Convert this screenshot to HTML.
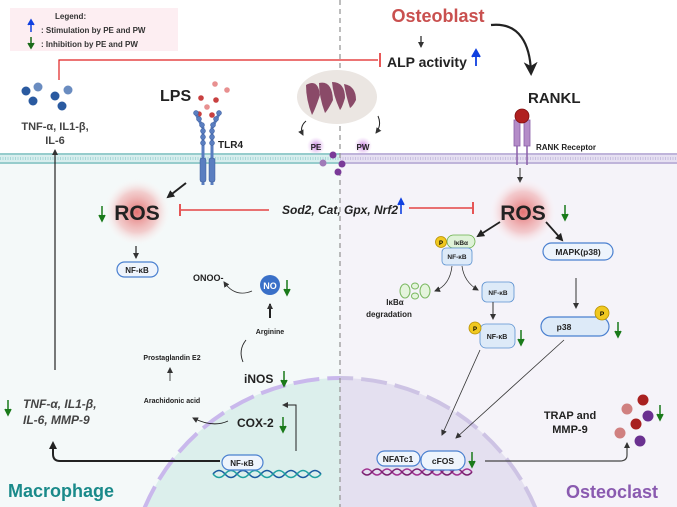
<!DOCTYPE html>
<html><head><meta charset="utf-8"><style>
html,body{margin:0;padding:0;width:677px;height:507px;overflow:hidden;background:#fff;font-family:"Liberation Sans",sans-serif}
svg{display:block;overflow:hidden}
svg text{font-family:"Liberation Sans",sans-serif}
</style></head><body>
<svg width="677" height="507" viewBox="0 0 677 507" xmlns="http://www.w3.org/2000/svg" overflow="hidden">
<defs>
<radialGradient id="ros"><stop offset="0" stop-color="#e05a5a" stop-opacity="0.85"/><stop offset="0.6" stop-color="#f0a0a0" stop-opacity="0.5"/><stop offset="1" stop-color="#fff" stop-opacity="0"/></radialGradient>
<radialGradient id="glow"><stop offset="0" stop-color="#b050d0" stop-opacity="0.8"/><stop offset="1" stop-color="#e0b0f0" stop-opacity="0"/></radialGradient>
<marker id="ah" markerWidth="8" markerHeight="8" refX="6" refY="4" orient="auto" markerUnits="userSpaceOnUse"><path d="M0,0 L8,4 L0,8 Z" fill="#222"/></marker>
<marker id="ahs" markerWidth="6" markerHeight="6" refX="5" refY="3" orient="auto" markerUnits="userSpaceOnUse"><path d="M0,0 L6,3 L0,6 Z" fill="#333"/></marker>
<marker id="ahb" markerWidth="14" markerHeight="14" refX="10" refY="7" orient="auto" markerUnits="userSpaceOnUse"><path d="M0,0 L14,7 L0,14 L4,7 Z" fill="#222"/></marker>
<clipPath id="cl"><rect x="0" y="0" width="340" height="507"/></clipPath>
<clipPath id="cr"><rect x="340" y="0" width="337" height="507"/></clipPath>
</defs>
<rect x="0" y="160" width="340" height="347" fill="#f4f9f9"/>
<rect x="340" y="160" width="337" height="347" fill="#f5f3f9"/>
<circle cx="340" cy="590" r="212" fill="#dcefec" clip-path="url(#cl)"/>
<circle cx="340" cy="590" r="212" fill="#e4e0f0" clip-path="url(#cr)"/>
<circle cx="340" cy="590" r="212" fill="none" stroke="#c9b8ec" stroke-width="4" stroke-dasharray="26 8" clip-path="url(#cl)"/>
<circle cx="340" cy="590" r="212" fill="none" stroke="#cdc3e4" stroke-width="4" stroke-dasharray="26 8" clip-path="url(#cr)"/>
<rect x="0" y="153" width="340" height="11" fill="#d8eeee"/>
<line x1="0" y1="154" x2="340" y2="154" stroke="#6fb8b8" stroke-width="1.2"/>
<line x1="0" y1="163" x2="340" y2="163" stroke="#6fb8b8" stroke-width="1.2"/>
<line x1="0" y1="158.5" x2="340" y2="158.5" stroke="#a8d8d8" stroke-width="3" stroke-dasharray="1 1.5"/>
<rect x="340" y="153" width="337" height="11" fill="#e6e0f2"/>
<line x1="340" y1="154" x2="677" y2="154" stroke="#a899cc" stroke-width="1.2"/>
<line x1="340" y1="163" x2="677" y2="163" stroke="#a899cc" stroke-width="1.2"/>
<line x1="340" y1="158.5" x2="677" y2="158.5" stroke="#c8bfe0" stroke-width="3" stroke-dasharray="1 1.5"/>
<line x1="340" y1="0" x2="340" y2="507" stroke="#999" stroke-width="1.3" stroke-dasharray="5 4"/>
<rect x="10" y="8" width="168" height="43" fill="#fdeef2"/>
<text x="55" y="19" font-size="8" font-weight="bold" fill="#333">Legend:</text>
<text x="41" y="33" font-size="8" font-weight="bold" fill="#333">: Stimulation by PE and PW</text>
<text x="41" y="47" font-size="8" font-weight="bold" fill="#333">: Inhibition    by PE and PW</text>
<path d="M31,32 V22 M28,25 L31,20 L34,25" stroke="#1040e0" stroke-width="1.5" fill="#1040e0"/>
<path d="M31,37 V46 M28,43 L31,48 L34,43" stroke="#1a6a1a" stroke-width="1.5" fill="#1a6a1a"/>
<polyline points="59,80 59,60 378,60" fill="none" stroke="#e02020" stroke-width="1.2"/>
<line x1="380" y1="53" x2="380" y2="67" stroke="#e02020" stroke-width="1.5"/>
<text x="438" y="22" font-size="18" font-weight="bold" fill="#c9504f" text-anchor="middle">Osteoblast</text>
<line x1="421" y1="36" x2="421" y2="47" stroke="#222" stroke-width="1.2" marker-end="url(#ahs)"/>
<text x="387" y="67" font-size="14" font-weight="bold" fill="#222">ALP activity</text>
<path d="M476,66 V54 M472,57 L476,50 L480,57" stroke="#1040e0" stroke-width="1.8" fill="#1040e0"/>
<path d="M491,25 C520,22 530,45 531,72" fill="none" stroke="#222" stroke-width="2.2" marker-end="url(#ahb)"/>
<text x="528" y="103" font-size="15" font-weight="bold" fill="#222">RANKL</text>
<rect x="514" y="120" width="6" height="26" fill="#b48cc8" stroke="#8a5ea8" stroke-width="0.8"/>
<rect x="524" y="120" width="6" height="26" fill="#b48cc8" stroke="#8a5ea8" stroke-width="0.8"/>
<line x1="517" y1="146" x2="517" y2="165" stroke="#8a5ea8" stroke-width="1.5"/>
<line x1="527" y1="146" x2="527" y2="165" stroke="#8a5ea8" stroke-width="1.5"/>
<circle cx="522" cy="116" r="7" fill="#b02020" stroke="#801010" stroke-width="0.8"/>
<text x="536" y="150" font-size="8" font-weight="bold" fill="#222">RANK Receptor</text>
<g fill="#2a5aa0">
<circle cx="26" cy="91" r="4.5"/><circle cx="38" cy="87" r="4.5" fill="#6a8cc0"/><circle cx="33" cy="101" r="4.5"/>
<circle cx="55" cy="96" r="4.5"/><circle cx="68" cy="90" r="4.5" fill="#6a8cc0"/><circle cx="62" cy="106" r="4.5"/></g>
<text x="55" y="130" font-size="11" font-weight="bold" fill="#444" text-anchor="middle">TNF-α, IL1-β,</text>
<text x="55" y="144" font-size="11" font-weight="bold" fill="#444" text-anchor="middle">IL-6</text>
<line x1="55" y1="370" x2="55" y2="150" stroke="#222" stroke-width="1.2" marker-end="url(#ahs)"/>
<text x="160" y="101" font-size="16" font-weight="bold" fill="#222">LPS</text>
<g fill="#c84040"><circle cx="201" cy="98" r="2.8"/><circle cx="216" cy="100" r="2.8"/><circle cx="199" cy="114" r="2.8"/><circle cx="212" cy="115" r="2.8"/></g>
<g fill="#e89090"><circle cx="215" cy="84" r="2.8"/><circle cx="227" cy="90" r="2.8"/><circle cx="207" cy="107" r="2.8"/></g>
<g fill="#5a7ec0" stroke="#3a5a9a" stroke-width="0.5">
<path d="M195,112 L203,128 L203,185" fill="none" stroke="#5a7ec0" stroke-width="3"/>
<path d="M220,112 L212,128 L212,185" fill="none" stroke="#5a7ec0" stroke-width="3"/>
<circle cx="196" cy="113" r="2.5"/><circle cx="199" cy="119" r="2.5"/><circle cx="202" cy="125" r="2.5"/><circle cx="203" cy="131" r="2.5"/><circle cx="203" cy="137" r="2.5"/><circle cx="203" cy="143" r="2.5"/>
<circle cx="219" cy="113" r="2.5"/><circle cx="216" cy="119" r="2.5"/><circle cx="213" cy="125" r="2.5"/><circle cx="212" cy="131" r="2.5"/><circle cx="212" cy="137" r="2.5"/><circle cx="212" cy="143" r="2.5"/>
<rect x="200" y="158" width="6" height="24" rx="2"/><rect x="209" y="158" width="6" height="24" rx="2"/></g>
<text x="218" y="148" font-size="10" font-weight="bold" fill="#222">TLR4</text>
<ellipse cx="337" cy="97" rx="40" ry="27" fill="#ebe6e2"/>
<g fill="#8a4a68"><path d="M306,85 Q318,78 320,95 Q315,110 312,115 Q306,100 306,85Z"/><path d="M319,83 Q332,80 333,100 Q328,110 325,113 Q319,97 319,83Z"/><path d="M332,82 Q345,82 345,98 Q342,108 340,110 Q333,95 332,82Z"/><path d="M344,84 Q356,86 356,100 Q353,106 350,108 Q346,96 344,84Z"/></g>
<path d="M306,121 Q299,127 303,135" fill="none" stroke="#222" stroke-width="1" marker-end="url(#ahs)"/>
<path d="M378,116 Q382,125 376,133" fill="none" stroke="#222" stroke-width="1" marker-end="url(#ahs)"/>
<circle cx="316" cy="146" r="9" fill="url(#glow)"/><text x="316" y="150" font-size="8" font-weight="bold" text-anchor="middle" fill="#222">PE</text>
<circle cx="363" cy="146" r="9" fill="url(#glow)"/><text x="363" y="150" font-size="8" font-weight="bold" text-anchor="middle" fill="#222">PW</text>
<g fill="#7a3a98"><circle cx="333" cy="155" r="3.5"/><circle cx="342" cy="164" r="3.5"/><circle cx="323" cy="163" r="3.5" fill="#a07ab8"/><circle cx="338" cy="172" r="3.5"/></g>
<circle cx="137" cy="212" r="34" fill="url(#ros)"/>
<text x="137" y="220" font-size="21" font-weight="bold" fill="#222" text-anchor="middle">ROS</text>
<path d="M102,206 V218 M99,215 L102,221 L105,215" stroke="#1a7a1a" stroke-width="1.5" fill="#1a7a1a"/>
<line x1="186" y1="183" x2="168" y2="197" stroke="#222" stroke-width="2" marker-end="url(#ah)"/>
<line x1="269" y1="210" x2="181" y2="210" stroke="#e02020" stroke-width="1.2"/>
<line x1="180" y1="204" x2="180" y2="216" stroke="#e02020" stroke-width="1.5"/>
<text x="340" y="214" font-size="12" font-weight="bold" font-style="italic" fill="#222" text-anchor="middle">Sod2, Cat, Gpx, Nrf2</text>
<path d="M401,214 V202 M398,205 L401,199 L404,205" stroke="#1040e0" stroke-width="1.6" fill="#1040e0"/>
<line x1="409" y1="208" x2="472" y2="208" stroke="#e02020" stroke-width="1.2"/>
<line x1="473" y1="202" x2="473" y2="214" stroke="#e02020" stroke-width="1.5"/>
<line x1="136" y1="246" x2="136" y2="258" stroke="#222" stroke-width="1.2" marker-end="url(#ahs)"/>
<rect x="117" y="262" width="41" height="15" rx="7.5" fill="#eef4fc" stroke="#4a80d0" stroke-width="1.2"/>
<text x="137" y="273" font-size="8" font-weight="bold" fill="#222" text-anchor="middle">NF-κB</text>
<text x="193" y="281" font-size="9" font-weight="bold" fill="#222">ONOO-</text>
<path d="M252,291 Q235,298 224,282" fill="none" stroke="#333" stroke-width="0.8" marker-end="url(#ahs)"/>
<circle cx="270" cy="285" r="10" fill="#3a70c8"/>
<text x="270" y="289" font-size="9" font-weight="bold" fill="#fff" text-anchor="middle">NO</text>
<path d="M287,280 V292 M284,289 L287,295 L290,289" stroke="#1a7a1a" stroke-width="1.5" fill="#1a7a1a"/>
<line x1="270" y1="318" x2="270" y2="304" stroke="#222" stroke-width="2" marker-end="url(#ahs)"/>
<text x="270" y="334" font-size="7" font-weight="bold" fill="#222" text-anchor="middle">Arginine</text>
<path d="M246,340 Q238,350 243,362" fill="none" stroke="#222" stroke-width="0.9"/>
<text x="172" y="360" font-size="7" font-weight="bold" fill="#222" text-anchor="middle">Prostaglandin E2</text>
<line x1="170" y1="381" x2="170" y2="368" stroke="#222" stroke-width="0.8" marker-end="url(#ahs)"/>
<text x="172" y="403" font-size="7" font-weight="bold" fill="#222" text-anchor="middle">Arachidonic acid</text>
<text x="244" y="383" font-size="12" font-weight="bold" fill="#222">iNOS</text>
<path d="M284,371 V383 M281,380 L284,386 L287,380" stroke="#1a7a1a" stroke-width="1.5" fill="#1a7a1a"/>
<text x="237" y="427" font-size="12" font-weight="bold" fill="#222">COX-2</text>
<path d="M283,417 V429 M280,426 L283,432 L286,426" stroke="#1a7a1a" stroke-width="1.5" fill="#1a7a1a"/>
<path d="M228,421 Q213,428 193,418" fill="none" stroke="#222" stroke-width="0.9" marker-end="url(#ahs)"/>
<polyline points="296,451 296,405 283,405" fill="none" stroke="#222" stroke-width="1" marker-end="url(#ahs)"/>
<path d="M8,400 V412 M5,409 L8,415 L11,409" stroke="#1a7a1a" stroke-width="1.5" fill="#1a7a1a"/>
<text x="23" y="408" font-size="12" font-weight="bold" font-style="italic" fill="#444">TNF-α, IL1-β,</text>
<text x="23" y="424" font-size="12" font-weight="bold" font-style="italic" fill="#444">IL-6, MMP-9</text>
<path d="M220,461 H60 Q53,461 53,454 V443" fill="none" stroke="#222" stroke-width="2" marker-end="url(#ah)"/>
<path d="M213,474 q6,-7 12,0 t12,0 t12,0 t12,0 t12,0 t12,0 t12,0 t12,0 t12,0" fill="none" stroke="#1a5aa0" stroke-width="1.5"/>
<path d="M213,474 q6,7 12,0 t12,0 t12,0 t12,0 t12,0 t12,0 t12,0 t12,0 t12,0" fill="none" stroke="#20a0a0" stroke-width="1.5"/>
<rect x="222" y="455" width="41" height="15" rx="7.5" fill="#eef4fc" stroke="#4a80d0" stroke-width="1.2"/>
<text x="242" y="466" font-size="8" font-weight="bold" fill="#222" text-anchor="middle">NF-κB</text>
<text x="8" y="497" font-size="18" font-weight="bold" fill="#1a8a8a">Macrophage</text>
<line x1="520" y1="168" x2="520" y2="182" stroke="#555" stroke-width="1.2" marker-end="url(#ahs)"/>
<circle cx="523" cy="212" r="34" fill="url(#ros)"/>
<text x="523" y="220" font-size="21" font-weight="bold" fill="#222" text-anchor="middle">ROS</text>
<path d="M565,205 V217 M562,214 L565,220 L568,214" stroke="#1a7a1a" stroke-width="1.5" fill="#1a7a1a"/>
<line x1="500" y1="222" x2="478" y2="236" stroke="#222" stroke-width="1.8" marker-end="url(#ah)"/>
<line x1="546" y1="222" x2="562" y2="240" stroke="#222" stroke-width="1.8" marker-end="url(#ah)"/>
<rect x="447" y="235" width="28" height="13" rx="6.5" fill="#dff2d8" stroke="#6ab04a" stroke-width="0.8"/>
<text x="461" y="245" font-size="6.5" font-weight="bold" fill="#222" text-anchor="middle">IκBα</text>
<circle cx="441" cy="242" r="5.5" fill="#f0c820" stroke="#b89000" stroke-width="0.8"/><text x="441" y="245" font-size="6" font-weight="bold" text-anchor="middle">P</text>
<rect x="442" y="248" width="30" height="17" rx="4" fill="#ddeaf8" stroke="#5a90d0" stroke-width="0.8"/>
<text x="457" y="259" font-size="6.5" font-weight="bold" fill="#222" text-anchor="middle">NF-κB</text>
<path d="M452,266 Q450,285 435,291" fill="none" stroke="#333" stroke-width="0.8" marker-end="url(#ahs)"/>
<path d="M462,266 Q464,282 478,290" fill="none" stroke="#333" stroke-width="0.8" marker-end="url(#ahs)"/>
<g fill="#e4f4dc" stroke="#7ab860" stroke-width="1"><ellipse cx="405" cy="291" rx="5" ry="7"/><ellipse cx="415" cy="286" rx="3.5" ry="3"/><ellipse cx="415" cy="296" rx="3.5" ry="3"/><ellipse cx="425" cy="291" rx="5" ry="7"/></g>
<text x="395" y="305" font-size="8" font-weight="bold" fill="#222" text-anchor="middle">IκBα</text>
<text x="389" y="317" font-size="8" font-weight="bold" fill="#222" text-anchor="middle">degradation</text>
<rect x="482" y="282" width="32" height="20" rx="5" fill="#ddeaf8" stroke="#5a90d0" stroke-width="0.8"/>
<text x="498" y="295" font-size="6.5" font-weight="bold" fill="#222" text-anchor="middle">NF-κB</text>
<line x1="493" y1="302" x2="493" y2="319" stroke="#333" stroke-width="1" marker-end="url(#ahs)"/>
<rect x="480" y="324" width="35" height="24" rx="6" fill="#ddeaf8" stroke="#5a90d0" stroke-width="0.8"/>
<text x="497" y="339" font-size="7" font-weight="bold" fill="#222" text-anchor="middle">NF-κB</text>
<circle cx="475" cy="328" r="6" fill="#f0c820" stroke="#b89000" stroke-width="0.8"/><text x="475" y="331" font-size="6" font-weight="bold" text-anchor="middle">P</text>
<path d="M521,330 V342 M518,339 L521,345 L524,339" stroke="#1a7a1a" stroke-width="1.5" fill="#1a7a1a"/>
<rect x="543" y="243" width="70" height="17" rx="8.5" fill="#eef4fc" stroke="#4a80d0" stroke-width="1.2"/>
<text x="578" y="255" font-size="8.5" font-weight="bold" fill="#222" text-anchor="middle">MAPK(p38)</text>
<line x1="576" y1="278" x2="576" y2="308" stroke="#333" stroke-width="1" marker-end="url(#ahs)"/>
<rect x="541" y="317" width="68" height="19" rx="9.5" fill="#ddeaf8" stroke="#4a80d0" stroke-width="1.2"/>
<text x="564" y="330" font-size="8.5" font-weight="bold" fill="#222" text-anchor="middle">p38</text>
<circle cx="602" cy="313" r="7" fill="#f0c820" stroke="#b89000" stroke-width="0.8"/><text x="602" y="316" font-size="6.5" font-weight="bold" text-anchor="middle">P</text>
<path d="M618,322 V334 M615,331 L618,337 L621,331" stroke="#1a7a1a" stroke-width="1.5" fill="#1a7a1a"/>
<line x1="480" y1="350" x2="442" y2="435" stroke="#333" stroke-width="0.8" marker-end="url(#ahs)"/>
<line x1="564" y1="340" x2="456" y2="438" stroke="#333" stroke-width="0.8" marker-end="url(#ahs)"/>
<path d="M362,472 q5,-6 10,0 t10,0 t10,0 t10,0 t10,0 t10,0 t10,0 t10,0 t10,0 t10,0 t10,0" fill="none" stroke="#a03090" stroke-width="1.5"/>
<path d="M362,472 q5,6 10,0 t10,0 t10,0 t10,0 t10,0 t10,0 t10,0 t10,0 t10,0 t10,0 t10,0" fill="none" stroke="#7a2070" stroke-width="1.5"/>
<rect x="377" y="451" width="43" height="15" rx="7.5" fill="#eef4fc" stroke="#4a80d0" stroke-width="1.2"/>
<text x="398" y="462" font-size="8.5" font-weight="bold" fill="#222" text-anchor="middle">NFATc1</text>
<rect x="421" y="451" width="44" height="19" rx="9" fill="#eef4fc" stroke="#4a80d0" stroke-width="1.2"/>
<text x="443" y="464" font-size="8.5" font-weight="bold" fill="#222" text-anchor="middle">cFOS</text>
<path d="M472,452 V464 M469,461 L472,467 L475,461" stroke="#1a7a1a" stroke-width="1.5" fill="#1a7a1a"/>
<path d="M485,461 H620 Q627,461 627,455 V443" fill="none" stroke="#444" stroke-width="1.2" marker-end="url(#ahs)"/>
<text x="570" y="419" font-size="11" font-weight="bold" fill="#222" text-anchor="middle">TRAP and</text>
<text x="570" y="433" font-size="11" font-weight="bold" fill="#222" text-anchor="middle">MMP-9</text>
<circle cx="627" cy="409" r="5.5" fill="#d08080"/><circle cx="643" cy="400" r="5.5" fill="#a82020"/><circle cx="648" cy="416" r="5.5" fill="#6a3090"/><circle cx="636" cy="424" r="5.5" fill="#a82020"/><circle cx="620" cy="433" r="5.5" fill="#d08080"/><circle cx="640" cy="441" r="5.5" fill="#6a3090"/>
<path d="M660,405 V417 M657,414 L660,420 L663,414" stroke="#1a7a1a" stroke-width="1.5" fill="#1a7a1a"/>
<text x="566" y="498" font-size="18" font-weight="bold" fill="#8a5ab0">Osteoclast</text>
</svg>
</body></html>
